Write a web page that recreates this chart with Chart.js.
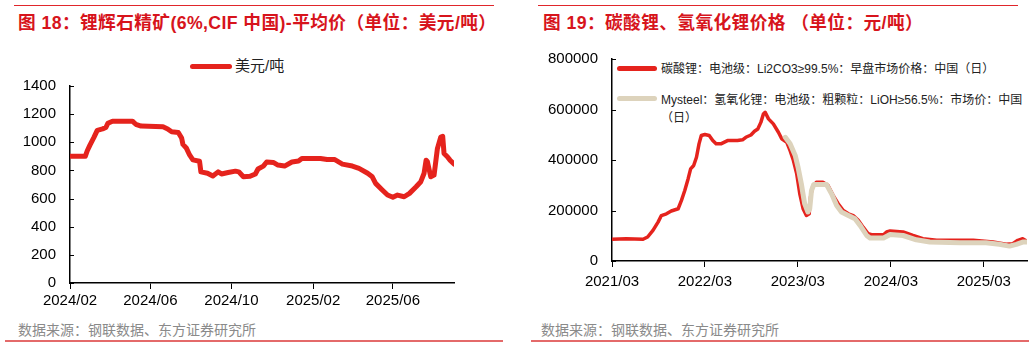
<!DOCTYPE html>
<html>
<head>
<meta charset="utf-8">
<script src="https://cdn.jsdelivr.net/npm/chart.js@4/dist/chart.umd.min.js"></script>
<style>
  body { margin: 0; background: #fff; width: 1032px; height: 347px; position: relative; overflow: hidden;
         font-family: "Liberation Sans", "Noto Sans CJK SC", sans-serif; }
  .abs { position: absolute; }
  .title { color: #d7141c; font-weight: bold; font-size: 17.7px; letter-spacing: 0.4px; white-space: nowrap; line-height: 20px; }
  .src { color: #8a8a8a; font-size: 14px; white-space: nowrap; line-height: 18px; }
  .topline { height: 1px; background: #e0262b; }
  .botline { height: 2px; background: #e46a6a; }
  .leg { font-size: 12px; color: #222; line-height: 16px; white-space: nowrap; }
  .sw { position: absolute; height: 5px; border-radius: 3px; }
  canvas { position: absolute; }
</style>
</head>
<body>
<div class="abs topline" style="left:14px;top:5px;width:480px"></div>
<div class="abs topline" style="left:538px;top:5px;width:480px"></div>
<div class="abs title" style="left:18px;top:13px">图 18：锂辉石精矿(6%,CIF 中国)-平均价（单位：美元/吨）</div>
<div class="abs title" style="left:543px;top:13px">图 19：碳酸锂、氢氧化锂价格 （单位：元/吨）</div>

<div class="sw" style="left:190px;top:64px;width:42px;background:#e5231d"></div>
<div class="abs leg" style="left:235px;top:57px;font-size:15px;line-height:18px">美元/吨</div>

<div class="sw" style="left:617px;top:66px;width:40px;background:#e5231d"></div>
<div class="abs leg" style="left:661px;top:61px">碳酸锂：电池级：Li2CO3≥99.5%：早盘市场价格：中国（日）</div>
<div class="sw" style="left:617px;top:96px;width:40px;background:#ddd3bc"></div>
<div class="abs leg" style="left:661px;top:91px;line-height:18px">Mysteel：氢氧化锂：电池级：粗颗粒：LiOH≥56.5%：市场价：中国<br>（日）</div>

<canvas id="spodumene" width="480" height="253" style="left:0;top:63px"></canvas>
<canvas id="lithium" width="516" height="262" style="left:516px;top:36px"></canvas>

<div class="abs src" style="left:18px;top:321px">数据来源：钢联数据、东方证券研究所</div>
<div class="abs src" style="left:541px;top:321px">数据来源：钢联数据、东方证券研究所</div>
<div class="abs botline" style="left:5px;top:340px;width:498px"></div>
<div class="abs botline" style="left:531px;top:340px;width:498px"></div>

<script>
// 锂辉石精矿 平均价 (美元/吨)
var spoDates = ['2024-02-01','2024-02-24','2024-02-27','2024-03-02','2024-03-08','2024-03-13','2024-03-21','2024-03-26',
  '2024-03-29','2024-04-05','2024-05-05','2024-05-10','2024-05-18','2024-06-20','2024-06-27','2024-07-03','2024-07-13',
  '2024-07-18','2024-07-20','2024-07-25','2024-07-30','2024-08-04','2024-08-14','2024-08-16','2024-08-26','2024-09-03',
  '2024-09-11','2024-09-16','2024-09-26','2024-10-07','2024-10-12','2024-10-19','2024-10-29','2024-11-06','2024-11-10',
  '2024-11-18','2024-11-23','2024-12-03','2024-12-10','2024-12-20','2024-12-31','2025-01-10','2025-01-15','2025-02-12',
  '2025-02-22','2025-03-05','2025-03-17','2025-04-01','2025-04-11','2025-04-24','2025-05-01','2025-05-06','2025-05-16',
  '2025-05-24','2025-06-01','2025-06-08','2025-06-18','2025-06-26','2025-07-06','2025-07-13','2025-07-18','2025-07-21',
  '2025-07-23','2025-07-28','2025-08-02','2025-08-07','2025-08-12','2025-08-15','2025-08-17','2025-08-22','2025-08-26',
  '2025-09-01'];
var spoPrice = [900,900,940,980,1035,1085,1095,1105,
  1135,1150,1150,1128,1115,1110,1095,1075,1070,
  1030,985,960,910,875,865,790,780,760,
  790,775,785,795,790,755,758,775,810,
  831,860,857,838,831,860,867,885,885,
  878,878,845,831,815,780,755,708,661,
  625,609,625,613,637,684,720,780,873,
  862,755,767,955,1037,1042,920,897,873,
  845];
var spoTickDates = ['2024-02-01','2024-06-01','2024-10-01','2025-02-01','2025-06-01'];
var spoTickLabels = ['2024/02','2024/06','2024/10','2025/02','2025/06'];
var spoYTicks = [0,200,400,600,800,1000,1200,1400];

// 碳酸锂 (元/吨)
var li2co3Dates = ['2021-03-01','2021-04-26','2021-07-01','2021-07-19','2021-08-09','2021-08-29','2021-09-11','2021-10-01',
  '2021-10-20','2021-11-16','2021-11-29','2021-12-12','2021-12-25','2022-01-04','2022-01-16','2022-01-27','2022-02-06',
  '2022-02-15','2022-03-01','2022-03-18','2022-04-01','2022-04-14','2022-05-03','2022-05-29','2022-07-07','2022-07-27',
  '2022-08-09','2022-08-29','2022-09-12','2022-09-25','2022-10-07','2022-10-17','2022-10-24','2022-11-06','2022-11-25',
  '2022-12-15','2022-12-28','2023-01-17','2023-01-30','2023-02-12','2023-02-25','2023-03-09','2023-03-22','2023-04-04',
  '2023-04-15','2023-04-20','2023-04-28','2023-05-13','2023-06-08','2023-06-28','2023-07-18','2023-08-07','2023-08-27',
  '2023-09-16','2023-10-05','2023-10-25','2023-11-13','2023-12-03','2023-12-16','2024-02-01','2024-02-13','2024-02-27',
  '2024-04-18','2024-05-27','2024-07-05','2024-08-28','2024-11-01','2025-01-19','2025-04-07','2025-05-28','2025-06-23',
  '2025-07-13','2025-08-01','2025-08-16'];
var li2co3Price = [86000,88000,86000,95000,121000,154000,180000,187000,
  198000,207000,240000,279000,325000,365000,378000,411000,464000,
  497000,501000,497000,477000,464000,464000,477000,477000,480000,
  490000,499000,514000,523000,549000,582000,589000,563000,543000,
  510000,484000,470000,437000,398000,345000,266000,207000,180000,
  187000,253000,292000,312000,312000,299000,260000,227000,200000,
  187000,180000,161000,134000,108000,104000,104000,115000,119000,
  115000,101000,88000,82000,82000,82000,75000,66000,68500,
  82000,88000,79000];

// Mysteel 氢氧化锂 (元/吨)
var liohDates = ['2023-01-11','2023-01-30','2023-02-19','2023-03-02','2023-03-15','2023-03-28','2023-04-10','2023-04-17',
  '2023-04-24','2023-05-03','2023-06-22','2023-07-12','2023-08-01','2023-08-20','2023-09-16','2023-10-12','2023-11-01',
  '2023-11-27','2023-12-10','2024-02-01','2024-02-27','2024-04-18','2024-06-09','2024-08-01','2024-11-28','2025-03-10',
  '2025-05-01','2025-06-10','2025-07-07','2025-08-01','2025-08-16'];
var liohPrice = [490000,464000,418000,372000,306000,227000,194000,207000,
  279000,303000,303000,266000,220000,194000,180000,167000,141000,
  101000,91000,91000,105000,101000,84000,75000,72000,72000,
  66000,59000,66000,75000,75000];
var liTickDates = ['2021-03-01','2022-03-01','2023-03-01','2024-03-01','2025-03-01'];
var liTickLabels = ['2021/03','2022/03','2023/03','2024/03','2025/03'];
var liYTicks = [0,200000,400000,600000,800000];

function ts(s) {
  var p = s.split('-');
  return Date.UTC(+p[0], +p[1] - 1, +p[2]);
}
function pts(dates, vals) {
  return dates.map(function (d, i) { return { x: ts(d), y: vals[i] }; });
}

// y ticks drawn inward from the axis
var innerTicks = {
  id: 'innerTicks',
  afterDraw: function (chart) {
    var ctx = chart.ctx, y = chart.scales.y, left = chart.chartArea.left;
    ctx.save();
    ctx.strokeStyle = '#000';
    ctx.lineWidth = 1;
    y.ticks.forEach(function (t) {
      var py = Math.round(y.getPixelForValue(t.value)) + 0.5;
      ctx.beginPath();
      ctx.moveTo(left, py);
      ctx.lineTo(left + 4, py);
      ctx.stroke();
    });
    ctx.restore();
  }
};

var tickFont = { family: '"Liberation Sans", Arial, sans-serif', size: 15 };

function makeChart(id, datasets, xTickDates, xTickLabels, xMax, yTicks, yWidth, xHeight, pad, xPad) {
  return new Chart(document.getElementById(id), {
    type: 'line',
    data: { datasets: datasets },
    options: {
      responsive: false,
      animation: false,
      devicePixelRatio: 1,
      layout: { padding: pad },
      plugins: { legend: { display: false }, tooltip: { enabled: false } },
      elements: { point: { radius: 0 }, line: { tension: 0, borderJoinStyle: 'round', borderCapStyle: 'round' } },
      scales: {
        x: {
          type: 'linear',
          min: ts(xTickDates[0]),
          max: ts(xMax),
          afterBuildTicks: function (s) { s.ticks = xTickDates.map(function (d) { return { value: ts(d) }; }); },
          afterFit: function (s) { s.height = xHeight; },
          ticks: {
            color: '#000', font: tickFont, padding: xPad, maxRotation: 0, autoSkip: false,
            callback: function (v) { var i = xTickDates.map(ts).indexOf(v); return i >= 0 ? xTickLabels[i] : ''; }
          },
          grid: { display: true, drawOnChartArea: false, drawTicks: true, tickLength: 6, color: '#000', lineWidth: 1 },
          border: { display: true, color: '#000', width: 1.5 }
        },
        y: {
          min: yTicks[0],
          max: yTicks[yTicks.length - 1],
          afterBuildTicks: function (s) { s.ticks = yTicks.map(function (v) { return { value: v }; }); },
          afterFit: function (s) { s.width = yWidth; },
          ticks: { color: '#000', font: tickFont, padding: 14, callback: function (v) { return String(v); } },
          grid: { display: true, drawOnChartArea: false, drawTicks: false },
          border: { display: true, color: '#000', width: 1.5 }
        }
      }
    },
    plugins: [innerTicks]
  });
}

makeChart('spodumene', [{
  label: '美元/吨',
  data: pts(spoDates, spoPrice),
  borderColor: '#e5231d',
  borderWidth: 5
}], spoTickDates, spoTickLabels, '2025-09-01', spoYTicks, 70, 33, { top: 10, right: 26, left: 0, bottom: 0 }, 3);

makeChart('lithium', [{
  label: '碳酸锂：电池级：Li2CO3≥99.5%：早盘市场价格：中国（日）',
  data: pts(li2co3Dates, li2co3Price),
  borderColor: '#e5231d',
  borderWidth: 3.5,
  order: 2
}, {
  label: 'Mysteel：氢氧化锂：电池级：粗颗粒：LiOH≥56.5%：市场价：中国（日）',
  data: pts(liohDates, liohPrice),
  borderColor: '#ddd3bc',
  borderWidth: 5,
  order: 1
}], liTickDates, liTickLabels, '2025-08-18', liYTicks, 96, 37, { top: 10, right: 5, left: 0, bottom: 0 }, 6);
</script>
</body>
</html>
